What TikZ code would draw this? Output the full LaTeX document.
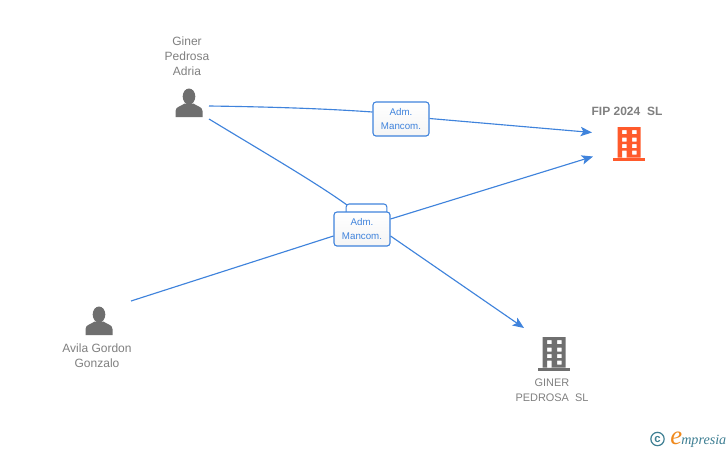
\documentclass[tikz,border=0pt]{standalone}
\usepackage{fontspec}
\setmainfont{Liberation Sans}
\newfontfamily\logofont{Liberation Serif}
\usetikzlibrary{arrows.meta}
\definecolor{linkblue}{HTML}{3F83DC}
\definecolor{labelgray}{HTML}{808080}
\definecolor{icongray}{HTML}{6F6F6F}
\definecolor{firmorange}{HTML}{FF5A2B}
\definecolor{logoteal}{HTML}{3E7F93}
\definecolor{logoorange}{HTML}{F08A1D}
\tikzset{
  x=0.75pt,y=-0.75pt,
  link/.style={draw=linkblue,line width=0.85pt},
  arrowlink/.style={link,-{Stealth[length=8.5pt,width=7pt,inset=2pt]}},
  rolebox/.style={draw=linkblue,line width=0.8pt,rounded corners=2.2pt,top color=white,bottom color=gray!8,minimum width=42pt,minimum height=25.5pt,inner sep=0pt,align=center,text=linkblue,font=\fontsize{7.3}{11.2}\selectfont},
  backbox/.style={draw=linkblue,line width=0.8pt,rounded corners=2.2pt,fill=white,minimum width=30.5pt,minimum height=12pt,inner sep=0pt},
  lbl/.style={text=labelgray,align=center,inner sep=0pt,font=\fontsize{9}{11.2}\selectfont},
  pics/person/.style={code={
    \fill[icongray] (0,-6.5) ellipse [x radius=6.3,y radius=8];
    \fill[icongray] (-13.5,14) -- (-13.5,8) .. controls (-13.5,3.5) and (-8,3.5) .. (-4.5,0.5) -- (4.5,0.5) .. controls (8,3.5) and (13.5,3.5) .. (13.5,8) -- (13.5,14) -- cycle;
  }},
  pics/building/.style={code={
    \fill[#1,even odd rule]
      (-11.5,-16) rectangle (11.5,14.5)
      (-7,-13) rectangle (-2.5,-9)
      (3,-13) rectangle (7.5,-9)
      (-7,-5.5) rectangle (-2.5,-1.5)
      (3,-5.5) rectangle (7.5,-1.5)
      (-7,1) rectangle (-2.5,5)
      (3,1) rectangle (7.5,5)
      (-7,7.5) rectangle (-2.5,14.5)
      (3,7.5) rectangle (7.5,11.5);
    \fill[#1] (-16,14.5) rectangle (16,17.5);
  }}
}
\begin{document}
\begin{tikzpicture}
\useasboundingbox (0,0) rectangle (728,450);
\fill[white] (0,0) rectangle (728,450);

\node[backbox] (back) at (366.5,212) {};
\node[rolebox] (roleA) at (401,119) {\raisebox{-0.7pt}{Adm.}\\\raisebox{-0.7pt}{Mancom.}};
\node[rolebox] (roleB) at (362,229) {\raisebox{-0.7pt}{Adm.}\\\raisebox{-0.7pt}{Mancom.}};

\node[lbl,anchor=north] (ginerlbl) at (187,36.5) {Giner\\Pedrosa\\Adria};
\pic at (189,103) {person};
\node[lbl,anchor=north] (avilalbl) at (97,344) {Avila Gordon\\Gonzalo};
\pic at (99,321) {person};
\node[lbl,anchor=north,font=\bfseries\fontsize{9}{11.2}\selectfont] (fiplbl) at (627,106.5) {FIP 2024\ \ SL};
\pic at (629,143) {building=firmorange};
\node[lbl,anchor=north,font=\fontsize{8.2}{11.2}\selectfont] (gplbl) at (552,378.5) {GINER\\PEDROSA\ \ SL};
\pic at (554,353) {building=icongray};

\coordinate (ginerA) at (209,106);
\coordinate (ginerB) at (209,119);
\coordinate (avila) at (131,301);
\coordinate (fipA) at (592,132.5);
\coordinate (fipB) at (593,156.5);
\coordinate (gp) at (524,328);

\draw[link] (ginerA) .. controls (280,107) and (330,109) .. (roleA.west |- 0,112);
\draw[arrowlink] (roleA.east |- 0,118.5) -- (fipA);
\draw[link] (ginerB) .. controls (265,153) and (315,182) .. (347,205);
\draw[link] (avila) -- (roleB.west |- 0,236);
\draw[arrowlink] (roleB.east |- 0,219) -- (fipB);
\draw[arrowlink] (roleB.east |- 0,236) -- (gp);

\node[circle,draw=logoteal,line width=0.9pt,minimum size=10pt,inner sep=0pt,text=logoteal,font=\bfseries\fontsize{8.5}{8.5}\selectfont] (copy) at (657.5,439) {c};
\node[anchor=base west,inner sep=0pt,text=logoorange,font=\logofont\itshape\fontsize{20}{20}\selectfont] (loge) at (670,444) {e};
\node[anchor=base west,inner sep=0pt,text=logoteal,font=\logofont\itshape\fontsize{10.6}{11}\selectfont] (logt) at (681,444) {mpresia};
\end{tikzpicture}
\end{document}
